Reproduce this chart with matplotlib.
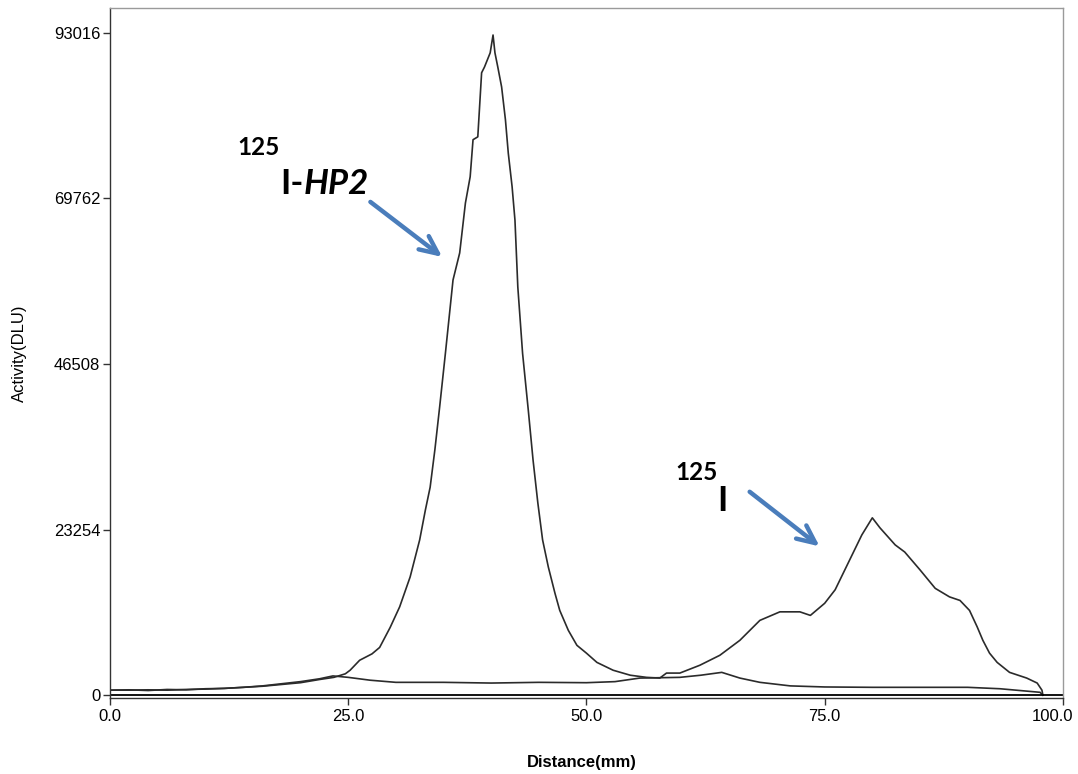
import matplotlib.pyplot as plt
from matplotlib.transforms import ScaledTranslation

# ------------------------------------------------------------
# Radio-TLC scan: labelled peptide trace and free iodide trace
# ------------------------------------------------------------

hp2_x = [0.0, 2.0, 4.0, 6.0, 8.0, 10.0, 12.0, 14.0, 16.0, 18.0, 20.0, 22.0,
         23.5, 24.7, 25.2, 26.2, 27.5, 28.3, 29.4, 30.4, 31.5, 32.5, 33.1,
         33.6, 34.1, 34.6, 35.2, 36.0, 36.7, 37.3, 37.8, 38.1, 38.6, 39.0,
         39.3, 39.9, 40.2, 40.4, 40.7, 41.1, 41.5, 41.8, 42.2, 42.5, 42.8,
         43.3, 43.9, 44.4, 44.9, 45.4, 46.0, 46.7, 47.2, 48.1, 49.0, 50.0,
         51.1, 52.8, 54.6, 56.3, 57.7, 58.4, 59.8, 61.9, 64.0, 66.1, 68.2,
         70.3, 72.4, 73.5, 75.0, 76.1, 77.7, 78.9, 80.0, 80.8, 82.4, 83.4,
         85.0, 86.6, 88.1, 89.2, 90.2, 91.0, 91.6, 92.3, 93.1, 94.4, 96.2,
         97.3, 97.8, 97.9]
hp2_y = [700, 750, 650, 800, 750, 900, 950, 1100, 1250, 1500, 1750, 2200,
         2500, 3000, 3500, 4900, 5800, 6700, 9500, 12400, 16600, 21800, 26000,
         29200, 34500, 40500, 48000, 58300, 62100, 69100, 72800, 78000, 78400,
         87400, 88200, 90200, 92700, 90200, 88200, 85400, 80800, 76100, 71400,
         66700, 57300, 48000, 40000, 33000, 27000, 21800, 18000, 14300, 11900,
         9100, 7000, 5900, 4600, 3500, 2800, 2500, 2400, 3100, 3100, 4200,
         5600, 7700, 10500, 11700, 11700, 11200, 12900, 14800, 19200, 22500,
         24900, 23500, 21100, 20100, 17600, 15000, 13800, 13300, 11900, 9600,
         7700, 5900, 4600, 3200, 2400, 1700, 700, 0]

free_x = [0.0, 2.0, 4.0, 6.0, 8.0, 10.0, 12.0, 14.0, 16.0, 18.0, 20.0, 22.0,
          23.4, 25.0, 27.3, 30.0, 35.0, 40.0, 45.0, 50.0, 53.0, 55.6, 59.8,
          62.0, 64.2, 66.1, 68.2, 71.4, 75.0, 80.0, 85.0, 90.0, 93.4, 97.6,
          97.9]
free_y = [700, 700, 750, 700, 800, 850, 950, 1100, 1300, 1600, 1900, 2300,
          2700, 2500, 2100, 1800, 1800, 1700, 1800, 1750, 1900, 2400, 2500,
          2800, 3200, 2400, 1800, 1300, 1150, 1100, 1100, 1100, 900, 400, 0]

y_ticks = [0, 23254, 46508, 69762, 93016]
x_ticks = [0.0, 25.0, 50.0, 75.0, 100.0]

tick_font = "Liberation Sans"
note_font = "Lato"
arrow_blue = "#4a7dbb"

fig = plt.figure(figsize=(10.78, 7.74), dpi=100)
ax = fig.add_axes([0.102, 0.098, 0.884, 0.892])

ax.plot(hp2_x, hp2_y, color="#2b2b2b", lw=1.2)
ax.plot(free_x, free_y, color="#2b2b2b", lw=1.2)
ax.axhline(0, color="black", lw=1.3)

ax.set_xlim(0, 100)
ax.set_ylim(-420, 96530)
ax.set_xticks(x_ticks)
ax.set_xticklabels([f"{v:.1f}" for v in x_ticks], family=tick_font, fontsize=12)
ax.set_yticks(y_ticks)
ax.set_yticklabels([str(v) for v in y_ticks], family=tick_font, fontsize=12)
ax.tick_params(axis="both", direction="out", length=5, width=1, color="#333333")
ax.tick_params(axis="x", pad=3)
ax.tick_params(axis="y", pad=2)

# last x label sits a little left so it stays inside the figure
last = ax.get_xticklabels()[-1]
last.set_transform(last.get_transform() + ScaledTranslation(-0.1, 0, fig.dpi_scale_trans))

for side in ["left", "bottom"]:
    ax.spines[side].set_color("#333333")
    ax.spines[side].set_linewidth(1.0)
for side in ["top", "right"]:
    ax.spines[side].set_color("#9a9a9a")
    ax.spines[side].set_linewidth(1.0)

fig.text(582 / 1078, 1 - 762 / 774, "Distance(mm)", family=tick_font,
         fontweight="bold", fontsize=12, ha="center", va="center")
fig.text(19 / 1078, 1 - 353 / 774, "Activity(DLU)", family=tick_font,
         fontsize=12, rotation=90, ha="center", va="center")

# peak labels with arrows
arrow_style = dict(arrowstyle="->,head_length=1.3,head_width=0.6",
                   color=arrow_blue, lw=3.2)

ax.text(13.4, 76850, "125", family=note_font, fontweight="bold", fontsize=17.5,
        ha="left", va="center")
t1 = ax.text(17.9, 71800, "I-", family=note_font, fontweight="bold",
             fontsize=25, ha="left", va="center")
ax.annotate("HP2", xy=(1, 0), xycoords=t1, va="bottom", ha="left",
            family=note_font, fontweight="bold", style="italic", fontsize=25)
ax.annotate("", xy=(35.1, 61300), xytext=(27.1, 69500), arrowprops=arrow_style)

ax.text(61.6, 31300, "125", family=note_font, fontweight="bold", fontsize=17.5,
        ha="center", va="center")
ax.text(64.3, 27300, "I", family=note_font, fontweight="bold", fontsize=25,
        ha="center", va="center")
ax.annotate("", xy=(74.7, 20650), xytext=(66.9, 28800), arrowprops=arrow_style)

fig.savefig("out.png", dpi=100)
